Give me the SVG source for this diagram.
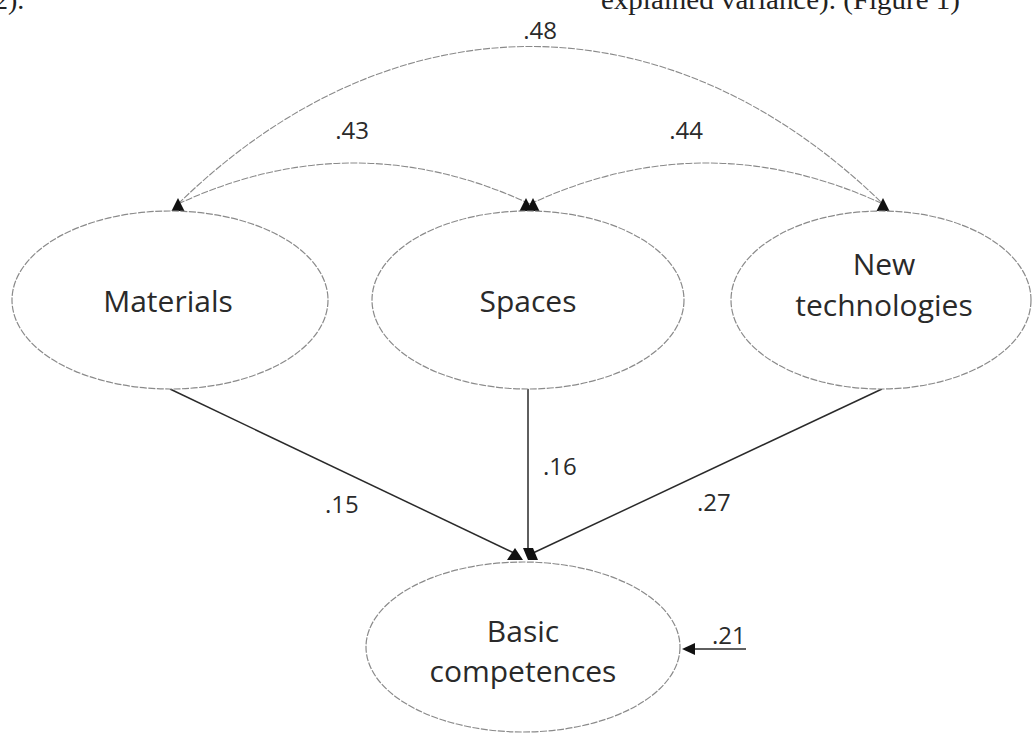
<svg xmlns="http://www.w3.org/2000/svg" xmlns:xlink="http://www.w3.org/1999/xlink" width="1032" height="733" viewBox="0 0 1032 733">
<style>
.bg{fill:#ffffff}
.node{fill:#ffffff;stroke:#8a8a8a;stroke-width:1.2;stroke-dasharray:7 1.5}
.lbl{font-family:"Open Sans","Liberation Sans",sans-serif;font-size:30px;fill:#2a2a2a;text-anchor:middle}
.num{font-family:"Open Sans","Liberation Sans",sans-serif;font-size:24px;fill:#2a2a2a}
.arc{fill:none;stroke:#8a8a8a;stroke-width:1.1;stroke-dasharray:7 1.5}
.path{fill:none;stroke:#2a2a2a;stroke-width:1.5}
.head{fill:#111111}
.top{font-family:"Liberation Serif",serif;font-size:28px;fill:#222}
</style>
<defs>
<path id="ahUp" class="head" d="M0,0 L6.5,13 L-6.5,13 Z"/>
</defs>
<rect class="bg" x="0" y="0" width="1032" height="733"/>
<g id="page-text">
<text class="top" x="-6" y="9">2).</text>
<text class="top" x="601" y="9" textLength="359" lengthAdjust="spacingAndGlyphs">explained variance). (Figure 1)</text>
</g>
<g id="connectors">
<path class="arc" d="M178,204 C393,-6 668,-6 883,204"/>
<path class="arc" d="M178,204 Q354,122 530,204"/>
<path class="arc" d="M530,204 Q706,122 883,204"/>
<line class="path" x1="170" y1="389" x2="514" y2="553"/>
<line class="path" x1="528" y1="389" x2="528" y2="552"/>
<line class="path" x1="882" y1="389" x2="533" y2="553"/>
<polygon class="head" points="507,560 515,548 523,560"/>
<polygon class="head" points="523,548 533,548 538,560 528,560"/>
<line class="path" x1="694" y1="649" x2="746" y2="649"/>
<polygon class="head" points="682,649 695,643 695,655"/>
<use xlink:href="#ahUp" href="#ahUp" x="178" y="198"/>
<use xlink:href="#ahUp" href="#ahUp" x="526" y="198"/>
<use xlink:href="#ahUp" href="#ahUp" x="533" y="198"/>
<use xlink:href="#ahUp" href="#ahUp" x="883" y="198"/>
<text class="num" x="540" y="39" text-anchor="middle">.48</text>
<text class="num" x="352" y="139" text-anchor="middle">.43</text>
<text class="num" x="686" y="139" text-anchor="middle">.44</text>
<text class="num" x="543" y="475">.16</text>
<text class="num" x="325" y="513">.15</text>
<text class="num" x="697" y="511">.27</text>
<text class="num" x="712" y="644">.21</text>
</g>
<g id="materials">
<ellipse class="node" cx="170" cy="300" rx="158" ry="89"/>
<text class="lbl" x="168" y="312">Materials</text>
</g>
<g id="spaces">
<ellipse class="node" cx="528" cy="300" rx="156" ry="89"/>
<text class="lbl" x="528" y="312">Spaces</text>
</g>
<g id="new-technologies">
<ellipse class="node" cx="881" cy="300" rx="150" ry="89"/>
<text class="lbl" x="884" y="275">New</text>
<text class="lbl" x="884" y="316">technologies</text>
</g>
<g id="basic-competences">
<ellipse class="node" cx="523" cy="647" rx="157" ry="85"/>
<text class="lbl" x="523" y="642">Basic</text>
<text class="lbl" x="523" y="682">competences</text>
</g>
</svg>
